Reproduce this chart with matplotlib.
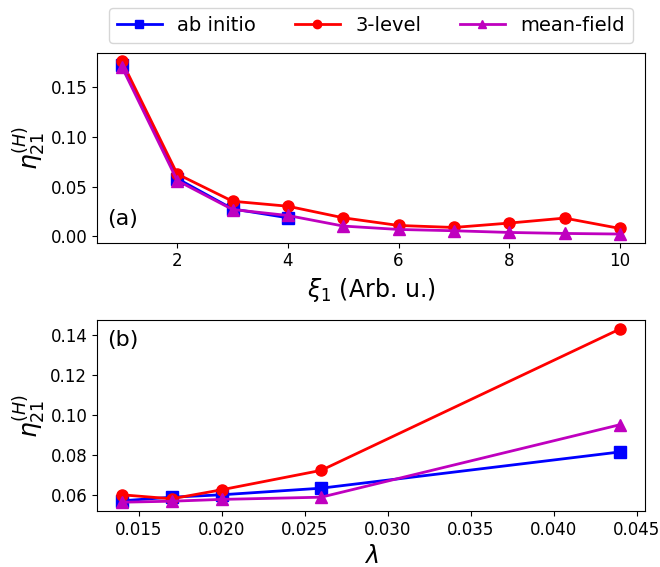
import matplotlib

matplotlib.use("Agg")
import matplotlib.pyplot as plt

# --- data ------------------------------------------------------------------

# panel (a): eta vs xi_1
xi_abinitio = [1, 2, 3, 4]
eta_abinitio_a = [0.172, 0.058, 0.0276, 0.0187]

xi_full = [1, 2, 3, 4, 5, 6, 7, 8, 9, 10]
eta_3level_a = [0.1756, 0.0626, 0.0353, 0.0303, 0.0187, 0.0110, 0.0090, 0.0134, 0.0184, 0.0080]
eta_meanfield_a = [0.170, 0.056, 0.027, 0.021, 0.0104, 0.0070, 0.0057, 0.0040, 0.0030, 0.0024]

# panel (b): eta vs lambda
lam = [0.014, 0.017, 0.020, 0.026, 0.044]
eta_abinitio_b = [0.0570, 0.0588, 0.0600, 0.0633, 0.0814]
eta_3level_b = [0.0600, 0.0580, 0.0625, 0.0722, 0.1428]
eta_meanfield_b = [0.0563, 0.0568, 0.0577, 0.0588, 0.0950]

YLABEL = r"$\eta_{21}^{(H)}$"
STYLE = dict(lw=2, ms=8)

fig = plt.figure(figsize=(6.6, 5.67), dpi=100)
ax1 = fig.add_axes([0.147, 0.572, 0.830, 0.335])
ax2 = fig.add_axes([0.147, 0.099, 0.830, 0.336])

# --- panel (a) --------------------------------------------------------------
ax1.plot(xi_abinitio, eta_abinitio_a, "b-s", label="ab initio", **STYLE)
ax1.plot(xi_full, eta_3level_a, "r-o", label="3-level", **STYLE)
ax1.plot(xi_full, eta_meanfield_a, "m-^", label="mean-field", **STYLE)
ax1.set_xlabel(r"$\xi_1$ (Arb. u.)", fontsize=17)
ax1.set_ylabel(YLABEL, fontsize=18, labelpad=2)
ax1.tick_params(labelsize=12)
ax1.text(0.018, 0.125, "(a)", transform=ax1.transAxes, fontsize=16, va="center")
ax1.legend(loc="lower center", bbox_to_anchor=(0.5, 1.0), ncol=3, fontsize=14,
           handlelength=2.3, markerscale=0.75)

# --- panel (b) --------------------------------------------------------------
ax2.plot(lam, eta_abinitio_b, "b-s", **STYLE)
ax2.plot(lam, eta_3level_b, "r-o", **STYLE)
ax2.plot(lam, eta_meanfield_b, "m-^", **STYLE)
ax2.set_xlabel(r"$\lambda$", fontsize=17)
ax2.set_ylabel(YLABEL, fontsize=18, labelpad=2)
ax2.tick_params(labelsize=12)
ax2.text(0.018, 0.895, "(b)", transform=ax2.transAxes, fontsize=16, va="center")

fig.savefig("out.png", dpi=100)
plt.close(fig)
